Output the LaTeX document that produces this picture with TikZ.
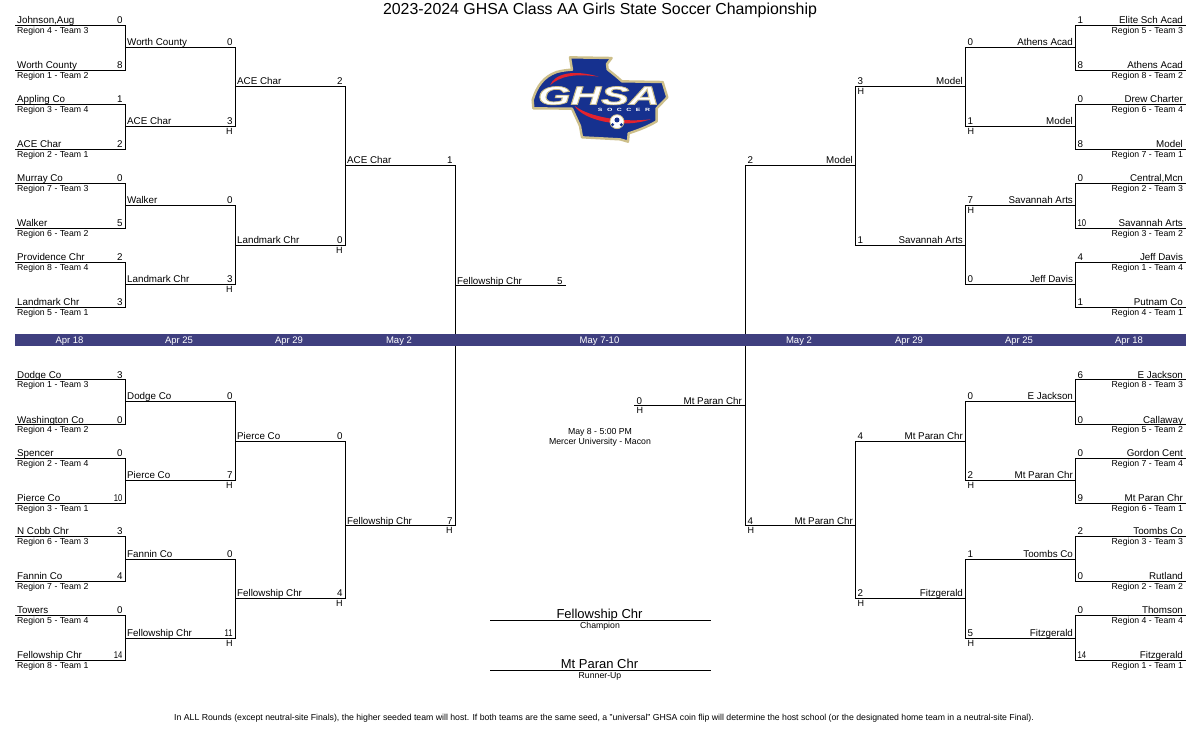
\documentclass[tikz,border=0pt]{standalone}
\usepackage{fontspec}
\setmainfont{Liberation Sans}
\definecolor{barblue}{HTML}{3F3F7F}
\definecolor{logoblue}{HTML}{16318F}
\definecolor{logogold}{HTML}{CDBF8A}
\definecolor{logored}{HTML}{E2232E}
\newcommand\fs[1]{\fontsize{#1}{#1}\selectfont}
\tikzset{x=1pt,y=-1pt,
 bk/.style={line width=1pt,line cap=rect,black},
 bkb/.style={line width=1pt,black},
 nm/.style={inner sep=0pt,font=\fs{9.8}},
 hh/.style={inner sep=0pt,font=\fs{9}},
 rg/.style={inner sep=0pt,font=\fs{8.72}},
 bar/.style={inner sep=0pt,text=white,font=\fs{9.5}}}
\newcommand\two[1]{\scalebox{.78}[1]{#1}}
% left-side slot: id, x, y, name, score
\newcommand\slotL[5]{%
 \coordinate (#1-s) at (#2+.3,#3); \coordinate (#1-e) at (#2+110.3,#3);
 \draw[bk] (#1-s) -- (#1-e);
 \node[nm,anchor=base west] (#1-n) at ([xshift=1.7pt,yshift=1.2pt]#1-s) {#4};
 \node[nm,anchor=base east] (#1-v) at ([xshift=-2.6pt,yshift=1.2pt]#1-e) {#5};}
\newcommand\slotR[5]{%
 \coordinate (#1-e) at (#2-.5,#3); \coordinate (#1-s) at (#2+109.5,#3);
 \draw[bk] (#1-s) -- (#1-e);
 \node[nm,anchor=base east] (#1-n) at ([xshift=-2.4pt,yshift=1.2pt]#1-s) {#4};
 \node[nm,anchor=base west] (#1-v) at ([xshift=1.8pt,yshift=1.2pt]#1-e) {#5};}
\newcommand\subL[2]{\node[rg,anchor=base west] (#1-r) at ([xshift=1.7pt,yshift=-8.4pt]#1-s) {#2};}
\newcommand\subR[2]{\node[rg,anchor=base east] (#1-r) at ([xshift=-2.4pt,yshift=-8.4pt]#1-s) {#2};}
\newcommand\hL[1]{\node[hh,anchor=base east] (#1-h) at ([xshift=-2.4pt,yshift=-8.2pt]#1-e) {H};}
\newcommand\hR[1]{\node[hh,anchor=base west] (#1-h) at ([xshift=1.8pt,yshift=-8.2pt]#1-e) {H};}
\newcommand\join[2]{\draw[bk] (#1-e) -- (#2-e);}
\begin{document}
\begin{tikzpicture}
\useasboundingbox (0,0) rectangle (1200,750);
\fill[white] (0,0) rectangle (1200,750);
\node[inner sep=0pt,font=\fs{15.9},anchor=base] (title) at (600,14.7) {2023-2024 GHSA Class AA Girls State Soccer Championship};
% ---- left top
\slotL{a1}{15}{25}{Johnson,Aug}{0}\subL{a1}{Region 4 - Team 3}
\slotL{a2}{15}{70}{Worth County}{8}\subL{a2}{Region 1 - Team 2}
\slotL{a3}{15}{104}{Appling Co}{1}\subL{a3}{Region 3 - Team 4}
\slotL{a4}{15}{149}{ACE Char}{2}\subL{a4}{Region 2 - Team 1}
\slotL{a5}{15}{183}{Murray Co}{0}\subL{a5}{Region 7 - Team 3}
\slotL{a6}{15}{228}{Walker}{5}\subL{a6}{Region 6 - Team 2}
\slotL{a7}{15}{262}{Providence Chr}{2}\subL{a7}{Region 8 - Team 4}
\slotL{a8}{15}{307}{Landmark Chr}{3}\subL{a8}{Region 5 - Team 1}
\slotL{b1}{125}{47}{Worth County}{0}
\slotL{b2}{125}{126}{ACE Char}{3}\hL{b2}
\slotL{b3}{125}{205}{Walker}{0}
\slotL{b4}{125}{284}{Landmark Chr}{3}\hL{b4}
\slotL{c1}{235}{86}{ACE Char}{2}
\slotL{c2}{235}{245}{Landmark Chr}{0}\hL{c2}
\slotL{d1}{345}{165}{ACE Char}{1}
\join{a1}{a2}\join{a3}{a4}\join{a5}{a6}\join{a7}{a8}
\join{b1}{b2}\join{b3}{b4}\join{c1}{c2}
% ---- left bottom
\slotL{e1}{15}{379.5}{Dodge Co}{3}\subL{e1}{Region 1 - Team 3}
\slotL{e2}{15}{424.5}{Washington Co}{0}\subL{e2}{Region 4 - Team 2}
\slotL{e3}{15}{458}{Spencer}{0}\subL{e3}{Region 2 - Team 4}
\slotL{e4}{15}{503}{Pierce Co}{\two{10}}\subL{e4}{Region 3 - Team 1}
\slotL{e5}{15}{536}{N Cobb Chr}{3}\subL{e5}{Region 6 - Team 3}
\slotL{e6}{15}{581}{Fannin Co}{4}\subL{e6}{Region 7 - Team 2}
\slotL{e7}{15}{615}{Towers}{0}\subL{e7}{Region 5 - Team 4}
\slotL{e8}{15}{660}{Fellowship Chr}{\two{14}}\subL{e8}{Region 8 - Team 1}
\slotL{f1}{125}{401}{Dodge Co}{0}
\slotL{f2}{125}{480}{Pierce Co}{7}\hL{f2}
\slotL{f3}{125}{559}{Fannin Co}{0}
\slotL{f4}{125}{638}{Fellowship Chr}{\two{11}}\hL{f4}
\slotL{g1}{235}{441}{Pierce Co}{0}
\slotL{g2}{235}{598}{Fellowship Chr}{4}\hL{g2}
\slotL{d2}{345}{525.5}{Fellowship Chr}{7}\hL{d2}
\join{e1}{e2}\join{e3}{e4}\join{e5}{e6}\join{e7}{e8}
\join{f1}{f2}\join{f3}{f4}\join{g1}{g2}\join{d1}{d2}
\slotL{w1}{455}{285.5}{Fellowship Chr}{5}
% ---- right top
\slotR{p1}{1076}{25}{Elite Sch Acad}{1}\subR{p1}{Region 5 - Team 3}
\slotR{p2}{1076}{70}{Athens Acad}{8}\subR{p2}{Region 8 - Team 2}
\slotR{p3}{1076}{104}{Drew Charter}{0}\subR{p3}{Region 6 - Team 4}
\slotR{p4}{1076}{149}{Model}{8}\subR{p4}{Region 7 - Team 1}
\slotR{p5}{1076}{183}{Central,Mcn}{0}\subR{p5}{Region 2 - Team 3}
\slotR{p6}{1076}{228}{Savannah Arts}{\two{10}}\subR{p6}{Region 3 - Team 2}
\slotR{p7}{1076}{262}{Jeff Davis}{4}\subR{p7}{Region 1 - Team 4}
\slotR{p8}{1076}{307}{Putnam Co}{1}\subR{p8}{Region 4 - Team 1}
\slotR{q1}{966}{47}{Athens Acad}{0}
\slotR{q2}{966}{126}{Model}{1}\hR{q2}
\slotR{q3}{966}{205}{Savannah Arts}{7}\hR{q3}
\slotR{q4}{966}{284}{Jeff Davis}{0}
\slotR{r1}{856}{86}{Model}{3}\hR{r1}
\slotR{r2}{856}{245}{Savannah Arts}{1}
\slotR{s1}{746}{165}{Model}{2}
\join{p1}{p2}\join{p3}{p4}\join{p5}{p6}\join{p7}{p8}
\join{q1}{q2}\join{q3}{q4}\join{r1}{r2}
% ---- right bottom
\slotR{t1}{1076}{379.5}{E Jackson}{6}\subR{t1}{Region 8 - Team 3}
\slotR{t2}{1076}{424.5}{Callaway}{0}\subR{t2}{Region 5 - Team 2}
\slotR{t3}{1076}{458}{Gordon Cent}{0}\subR{t3}{Region 7 - Team 4}
\slotR{t4}{1076}{503}{Mt Paran Chr}{9}\subR{t4}{Region 6 - Team 1}
\slotR{t5}{1076}{536}{Toombs Co}{2}\subR{t5}{Region 3 - Team 3}
\slotR{t6}{1076}{581}{Rutland}{0}\subR{t6}{Region 2 - Team 2}
\slotR{t7}{1076}{615}{Thomson}{0}\subR{t7}{Region 4 - Team 4}
\slotR{t8}{1076}{660}{Fitzgerald}{\two{14}}\subR{t8}{Region 1 - Team 1}
\slotR{u1}{966}{401}{E Jackson}{0}
\slotR{u2}{966}{480}{Mt Paran Chr}{2}\hR{u2}
\slotR{u3}{966}{559}{Toombs Co}{1}
\slotR{u4}{966}{638}{Fitzgerald}{5}\hR{u4}
\slotR{v1}{856}{441}{Mt Paran Chr}{4}
\slotR{v2}{856}{598}{Fitzgerald}{2}\hR{v2}
\slotR{s2}{746}{525.5}{Mt Paran Chr}{4}\hR{s2}
\join{t1}{t2}\join{t3}{t4}\join{t5}{t6}\join{t7}{t8}
\join{u1}{u2}\join{u3}{u4}\join{v1}{v2}\join{s1}{s2}
\slotR{w2}{635}{405.5}{Mt Paran Chr}{0}\hR{w2}
% ---- date bar
\fill[barblue] (15,334) rectangle (1186,346);
\foreach \i/\px/\tx in {1/69.5/Apr 18,2/179/Apr 25,3/289/Apr 29,4/399/May 2,5/599.5/May 7-10,6/799/May 2,7/909/Apr 29,8/1019/Apr 25,9/1129/Apr 18}
 \node[bar,anchor=base] (date\i) at (\px,343.4) {\tx};
% ---- centre notes
\node[rg,anchor=base] (when) at (600,434.5) {May 8 - 5:00 PM};
\node[rg,anchor=base] (where) at (600,444.5) {Mercer University - Macon};
\coordinate (ch-a) at (490,620.5); \coordinate (ch-b) at (711,620.5);
\draw[bkb] (ch-a) -- (ch-b);
\node[inner sep=0pt,font=\fs{13},anchor=base] (champ) at (599.5,618) {Fellowship Chr};
\node[rg,anchor=base] (champl) at (600,628.3) {Champion};
\coordinate (ru-a) at (490,670.5); \coordinate (ru-b) at (711,670.5);
\draw[bkb] (ru-a) -- (ru-b);
\node[inner sep=0pt,font=\fs{13},anchor=base] (runner) at (599.5,668) {Mt Paran Chr};
\node[rg,anchor=base] (runnerl) at (600,678.3) {Runner-Up};
\node[rg,anchor=base] (foot) at (604,720) {In ALL Rounds (except neutral-site Finals), the higher seeded team will host. If both teams are the same seed, a "universal" GHSA coin flip will determine the host school (or the designated home team in a neutral-site Final).};
% ---- logo
\begin{scope}[shift={(500,40)},x=0.3333pt,y=-0.3333pt]
\path[fill=logoblue,draw=logogold,line width=2.4pt,line join=round]
 (210,52) -- (335,54) -- (321,72) -- (323,88) -- (350,110) -- (366,124) -- (488,126) -- (502,172) -- (470,205)
 -- (470,244) .. controls (440,262) and (410,272) .. (386,280) -- (384,305) -- (360,298) -- (246,292) -- (240,258) -- (216,206)
 -- (100,205) -- (98,180) .. controls (110,140) and (130,110) .. (170,96) .. controls (185,92) and (200,90) .. (216,89) -- cycle;
\fill[logored] (150,136) .. controls (165,100) and (220,88) .. (296,110) .. controls (225,100) and (180,108) .. (150,136) -- cycle;
\fill[logored] (224,198) .. controls (250,240) and (360,268) .. (452,238) .. controls (370,248) and (270,232) .. (224,198) -- cycle;
\node[inner sep=0pt,text=white,font=\bfseries\itshape\fs{26},anchor=center] (logo2) at (296,167) {\scalebox{1.62}[1]{\special{pdf:code 2 Tr 0.7 w 0.80 0.75 0.54 RG}GHSA\special{pdf:code 0 Tr}}};
\node[inner sep=0pt,text=white,font=\bfseries\fs{4.6},anchor=center] (logo3) at (372,211) {\scalebox{1.5}[1]{S\hspace{3pt}O\hspace{3pt}C\hspace{3pt}C\hspace{3pt}E\hspace{3pt}R}};
\fill[white,draw=logogold,line width=.8pt] (351,245) circle (21);
\fill[logoblue] (351,240) circle (7.5);
\fill[logoblue] (338,254) circle (5);
\fill[logoblue] (364,254) circle (5);
\end{scope}
\end{tikzpicture}
\end{document}
